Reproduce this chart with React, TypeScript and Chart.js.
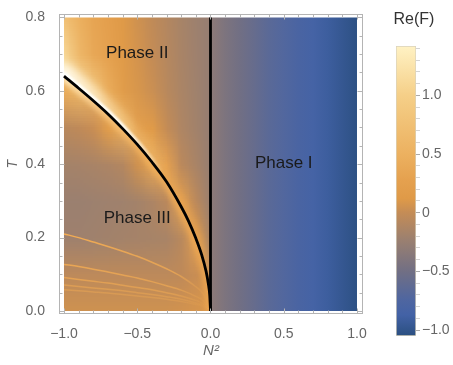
import React, { useEffect, useRef } from 'react';
import { Chart, registerables } from 'chart.js';

Chart.register(...registerables);

const FONT = "'Liberation Sans', Arial, Helvetica, sans-serif";

// ---------- axes ----------
const xMajorTicks = [-1, -0.5, 0, 0.5, 1];
const xTickLabels = ['−1.0', '−0.5', '0.0', '0.5', '1.0'];
const xMinorTicks = [-0.9, -0.8, -0.7, -0.6, -0.4, -0.3, -0.2, -0.1, 0.1, 0.2, 0.3, 0.4, 0.6, 0.7, 0.8, 0.9];
const yMajorTicks = [0, 0.2, 0.4, 0.6, 0.8];
const yTickLabels = ['0.0', '0.2', '0.4', '0.6', '0.8'];
const yMinorTicks = [0.05, 0.1, 0.15, 0.25, 0.3, 0.35, 0.45, 0.5, 0.55, 0.65, 0.7, 0.75];
const xTitle = 'N²';
const yTitle = 'T';

// ---------- colour bar ----------
const cbTitle = 'Re(F)';
const cbMajorTicks = [-1, -0.5, 0, 0.5, 1];
const cbTickLabels = ['−1.0', '−0.5', '0', '0.5', '1.0'];
const cbMinorTicks = [-0.9, -0.8, -0.7, -0.6, -0.4, -0.3, -0.2, -0.1, 0.1, 0.2, 0.3, 0.4, 0.6, 0.7, 0.8, 0.9, 1.1, 1.2, 1.3, 1.4];
const cmapValues = [-1.05, -0.87, -0.74, -0.5, -0.23, 0.0, 0.12, 0.28, 0.5, 1.0, 1.42];
const cmapColors = ['#2a4f80', '#4362a6', '#4f66a0', '#716f84', '#9b8070', '#c48c56', '#df9a48', '#e5a14f', '#ecb160', '#f5cf88', '#fff2c4'];

// ---------- density field (Re F) ----------
const gridN2 = [-1, -0.9, -0.8, -0.7, -0.6, -0.5, -0.4, -0.3, -0.2, -0.1, 0];
const gridT = [0.8, 0.7, 0.6, 0.5, 0.4, 0.3, 0.2, 0.1, 0];
const phaseIIValues = [
  [0.75, 0.50, 0.33, 0.24, 0.13, 0.05, -0.02, -0.09, -0.16, -0.22, -0.27],
  [1.10, 0.62, 0.38, 0.27, 0.15, 0.07, 0.00, -0.08, -0.15, -0.21, -0.27],
  [1.42, 1.20, 0.90, 0.45, 0.18, 0.09, 0.03, -0.06, -0.14, -0.20, -0.27],
  [1.42, 1.42, 1.20, 0.90, 0.60, 0.25, 0.15, 0.00, -0.12, -0.19, -0.27],
  [1.30, 1.30, 1.20, 1.00, 0.80, 0.65, 0.55, 0.30, -0.05, -0.15, -0.26],
  [1.20, 1.20, 1.10, 1.00, 0.80, 0.65, 0.55, 0.45, 0.25, -0.05, -0.24],
  [1.20, 1.20, 1.10, 1.00, 0.80, 0.65, 0.55, 0.45, 0.35, 0.15, -0.18],
  [1.20, 1.20, 1.10, 1.00, 0.80, 0.65, 0.55, 0.45, 0.35, 0.20, -0.10],
  [1.20, 1.20, 1.10, 1.00, 0.80, 0.65, 0.55, 0.45, 0.35, 0.20, -0.05],
];
const phaseIIIValues = [
  [0.60, 0.58, 0.55, 0.52, 0.50, 0.45, 0.40, 0.38, 0.35, 0.30, 0.15],
  [0.60, 0.58, 0.55, 0.52, 0.50, 0.45, 0.40, 0.38, 0.35, 0.30, 0.15],
  [0.45, 0.58, 0.55, 0.52, 0.50, 0.45, 0.40, 0.38, 0.35, 0.30, 0.15],
  [-0.06, -0.03, 0.02, 0.20, 0.45, 0.45, 0.40, 0.38, 0.35, 0.30, 0.15],
  [-0.18, -0.17, -0.15, -0.13, -0.09, 0.05, 0.35, 0.38, 0.35, 0.30, 0.15],
  [-0.23, -0.23, -0.22, -0.21, -0.20, -0.18, -0.13, -0.05, 0.35, 0.30, 0.15],
  [-0.21, -0.21, -0.20, -0.19, -0.18, -0.17, -0.16, -0.15, -0.06, 0.30, 0.15],
  [-0.04, -0.04, -0.04, -0.04, -0.04, -0.04, -0.04, -0.04, -0.03, 0.02, 0.10],
  [0.05, 0.05, 0.05, 0.05, 0.05, 0.05, 0.05, 0.05, 0.06, 0.08, 0.10],
];
const phaseIN2 = [0, 0.1, 0.2, 0.3, 0.4, 0.5, 0.6, 0.7, 0.8, 0.9, 1.0];
const phaseIValues = [-0.32, -0.42, -0.5, -0.58, -0.66, -0.72, -0.79, -0.85, -0.91, -0.97, -1.03];

// ---------- phase boundary ----------
const boundaryN2 = [-1, -0.9, -0.8, -0.7, -0.6, -0.5, -0.4, -0.3, -0.2, -0.15, -0.1, -0.06, -0.03, -0.015, -0.005, 0];
const boundaryT = [0.640, 0.607, 0.573, 0.537, 0.497, 0.454, 0.406, 0.352, 0.284, 0.245, 0.198, 0.153, 0.108, 0.075, 0.042, 0];
const verticalN2 = [0, 0];
const verticalT = [0, 0.8];

// ---------- fringe lines in phase III ----------
const fringeN2 = [-1, -0.9, -0.8, -0.7, -0.6, -0.5, -0.4, -0.3, -0.2, -0.1, -0.05, 0];
const fringe1T = [0.210, 0.200, 0.188, 0.176, 0.163, 0.149, 0.133, 0.115, 0.094, 0.066, 0.047, 0];
const fringe2T = [0.127, 0.121, 0.114, 0.106, 0.098, 0.090, 0.080, 0.069, 0.057, 0.040, 0.028, 0];
const fringe3T = [0.091, 0.086, 0.081, 0.076, 0.070, 0.064, 0.058, 0.050, 0.041, 0.029, 0.020, 0];
const fringe4T = [0.071, 0.067, 0.063, 0.059, 0.055, 0.050, 0.045, 0.039, 0.032, 0.022, 0.016, 0];
const fringe5T = [0.058, 0.055, 0.052, 0.049, 0.045, 0.041, 0.037, 0.032, 0.026, 0.018, 0.013, 0];

// ---------- annotations ----------
const phaseLabels = ['Phase II', 'Phase III', 'Phase I'];
const phaseLabelN2 = [-0.5, -0.5, 0.5];
const phaseLabelT = [0.702, 0.253, 0.403];

// ---------- helpers ----------
function hexToRgb(h: string): number[] {
  const n = parseInt(h.slice(1), 16);
  return [(n >> 16) & 255, (n >> 8) & 255, n & 255];
}
const cmapRGB = cmapColors.map(hexToRgb);
function colorAt(v: number): number[] {
  const n = cmapValues.length;
  if (v <= cmapValues[0]) return cmapRGB[0];
  if (v >= cmapValues[n - 1]) return cmapRGB[n - 1];
  let i = 0;
  while (v > cmapValues[i + 1]) i++;
  const t = (v - cmapValues[i]) / (cmapValues[i + 1] - cmapValues[i]);
  return cmapRGB[i].map((c, k) => Math.round(c + (cmapRGB[i + 1][k] - c) * t));
}
function css(v: number): string {
  const [r, g, b] = colorAt(v);
  return `rgb(${r},${g},${b})`;
}
function gridImage(values: number[][]): HTMLCanvasElement {
  const rows = values.length;
  const cols = values[0].length;
  const c = document.createElement('canvas');
  c.width = cols;
  c.height = rows;
  const g = c.getContext('2d')!;
  const img = g.createImageData(cols, rows);
  for (let r = 0; r < rows; r++) {
    for (let k = 0; k < cols; k++) {
      const [R, G, B] = colorAt(values[r][k]);
      const idx = (r * cols + k) * 4;
      img.data[idx] = R;
      img.data[idx + 1] = G;
      img.data[idx + 2] = B;
      img.data[idx + 3] = 255;
    }
  }
  g.putImageData(img, 0, 0);
  return c;
}

const heatmapPlugin = {
  id: 'heatmap',
  beforeDatasetsDraw(chart: any) {
    const { ctx } = chart;
    const xs = chart.scales.x;
    const ys = chart.scales.y;
    const X = (v: number) => xs.getPixelForValue(v);
    const Y = (v: number) => ys.getPixelForValue(v);
    const last = boundaryN2.length - 1;

    const boundaryPath = () => {
      boundaryN2.forEach((v, i) => (i === 0 ? ctx.moveTo(X(v), Y(boundaryT[i])) : ctx.lineTo(X(v), Y(boundaryT[i]))));
    };
    const clipII = () => {
      ctx.beginPath();
      ctx.moveTo(X(-1.1), Y(0.9));
      ctx.lineTo(X(-1.1), Y(boundaryT[0]));
      boundaryN2.forEach((v, i) => ctx.lineTo(X(v), Y(boundaryT[i])));
      ctx.lineTo(X(boundaryN2[last]), Y(0.9));
      ctx.closePath();
      ctx.clip();
    };
    const clipIII = () => {
      ctx.beginPath();
      ctx.moveTo(X(-1.1), Y(boundaryT[0]));
      boundaryN2.forEach((v, i) => ctx.lineTo(X(v), Y(boundaryT[i])));
      ctx.lineTo(X(boundaryN2[last]), Y(-0.1));
      ctx.lineTo(X(-1.1), Y(-0.1));
      ctx.closePath();
      ctx.clip();
    };
    const drawGrid = (values: number[][]) => {
      const img = gridImage(values);
      const sx = gridN2[1] - gridN2[0];
      const st = gridT[0] - gridT[1];
      const dx = X(gridN2[0] - sx / 2);
      const dw = X(gridN2[gridN2.length - 1] + sx / 2) - dx;
      const dy = Y(gridT[0] + st / 2);
      const dh = Y(gridT[gridT.length - 1] - st / 2) - dy;
      ctx.imageSmoothingEnabled = true;
      ctx.imageSmoothingQuality = 'low';
      ctx.drawImage(img, dx, dy, dw, dh);
    };
    const xGrad = (stops: [number, string][]) => {
      const g = ctx.createLinearGradient(X(-1), 0, X(0), 0);
      stops.forEach(([v, c]) => g.addColorStop(v + 1, c));
      return g;
    };

    ctx.save();
    ctx.beginPath();
    ctx.rect(X(-1), Y(0.8), X(1) - X(-1), Y(0) - Y(0.8));
    ctx.clip();

    // Phase I
    const g1 = ctx.createLinearGradient(X(phaseIN2[0]), 0, X(phaseIN2[phaseIN2.length - 1]), 0);
    phaseIN2.forEach((v, i) => g1.addColorStop((v - phaseIN2[0]) / (phaseIN2[phaseIN2.length - 1] - phaseIN2[0]), css(phaseIValues[i])));
    ctx.fillStyle = g1;
    ctx.fillRect(X(0), Y(0.85), X(1.05) - X(0), Y(-0.05) - Y(0.85));

    // Phase II
    ctx.save();
    clipII();
    drawGrid(phaseIIValues);
    ctx.lineJoin = 'round';
    ctx.lineCap = 'round';
    ctx.filter = 'blur(4px)';
    ctx.strokeStyle = xGrad([[-1, 'rgba(255,250,235,0.95)'], [-0.8, 'rgba(255,240,210,0.7)'], [-0.55, 'rgba(250,215,150,0.35)'], [-0.3, 'rgba(240,180,100,0)'], [0, 'rgba(240,180,100,0)']]);
    ctx.lineWidth = 24;
    ctx.beginPath(); boundaryPath(); ctx.stroke();
    ctx.filter = 'blur(3px)';
    ctx.strokeStyle = xGrad([[-1, 'rgba(236,166,82,0)'], [-0.45, 'rgba(236,166,82,0)'], [-0.2, 'rgba(236,166,82,0.6)'], [0, 'rgba(236,166,82,0.5)']]);
    ctx.lineWidth = 12;
    ctx.beginPath(); boundaryPath(); ctx.stroke();
    ctx.filter = 'blur(1.2px)';
    ctx.strokeStyle = xGrad([[-1, 'rgba(255,255,250,1)'], [-0.6, 'rgba(255,255,248,0.95)'], [-0.45, 'rgba(255,250,235,0.6)'], [-0.32, 'rgba(255,245,220,0)'], [0, 'rgba(255,245,220,0)']]);
    ctx.lineWidth = 8;
    ctx.beginPath(); boundaryPath(); ctx.stroke();
    ctx.restore();

    // Phase III
    ctx.save();
    clipIII();
    drawGrid(phaseIIIValues);
    ctx.lineJoin = 'round';
    ctx.filter = 'blur(2.5px)';
    ctx.strokeStyle = xGrad([[-1, 'rgba(255,235,190,0.95)'], [-0.8, 'rgba(250,205,140,0.9)'], [-0.5, 'rgba(242,178,95,0.85)'], [0, 'rgba(236,165,80,0.8)']]);
    ctx.lineWidth = 10;
    ctx.beginPath(); boundaryPath(); ctx.stroke();
    ctx.restore();

    ctx.restore();
  },
};

const framePlugin = {
  id: 'frame',
  afterDatasetsDraw(chart: any) {
    const { ctx, chartArea: a } = chart;
    const xs = chart.scales.x;
    const ys = chart.scales.y;
    ctx.save();
    // phase labels
    ctx.fillStyle = '#1a1a1a';
    ctx.font = `17px ${FONT}`;
    ctx.textAlign = 'center';
    ctx.textBaseline = 'middle';
    phaseLabels.forEach((t, i) => ctx.fillText(t, xs.getPixelForValue(phaseLabelN2[i]), ys.getPixelForValue(phaseLabelT[i])));

    // frame
    const L = Math.round(a.left) + 0.5;
    const R = Math.round(a.right) - 0.5;
    const T = Math.round(a.top) + 0.5;
    const B = Math.round(a.bottom) - 0.5;
    ctx.strokeStyle = '#b4b4b4';
    ctx.lineWidth = 1;
    ctx.strokeRect(L, T, R - L, B - T);
    const line = (x1: number, y1: number, x2: number, y2: number) => {
      ctx.beginPath(); ctx.moveTo(x1, y1); ctx.lineTo(x2, y2); ctx.stroke();
    };
    const xt = (vals: number[], len: number) => vals.forEach((v) => {
      const p = Math.round(xs.getPixelForValue(v)) + 0.5;
      line(p, B, p, B - len); line(p, T, p, T + len);
    });
    const yt = (vals: number[], len: number) => vals.forEach((v) => {
      const p = Math.round(ys.getPixelForValue(v)) + 0.5;
      line(L, p, L + len, p); line(R, p, R - len, p);
    });
    xt(xMajorTicks, 5); xt(xMinorTicks, 3);
    yt(yMajorTicks, 5); yt(yMinorTicks, 3);
    ctx.restore();
  },
};

const cbTitlePlugin = {
  id: 'cbTitle',
  afterDraw(chart: any) {
    const { ctx } = chart;
    ctx.save();
    ctx.font = `16px ${FONT}`;
    ctx.fillStyle = '#333';
    ctx.textAlign = 'center';
    ctx.textBaseline = 'middle';
    ctx.fillText(cbTitle, 44, 20);
    ctx.restore();
  },
};

function fringeColor(alpha: number) {
  return (c: any) => {
    const chart = c.chart;
    const xs = chart.scales && chart.scales.x;
    if (!xs || !chart.chartArea) return `rgba(244,170,80,${alpha})`;
    const g = chart.ctx.createLinearGradient(xs.getPixelForValue(-1), 0, xs.getPixelForValue(0), 0);
    g.addColorStop(0, `rgba(244,172,82,${alpha})`);
    g.addColorStop(0.75, `rgba(244,172,82,${alpha * 0.7})`);
    g.addColorStop(1, 'rgba(244,172,82,0)');
    return g;
  };
}

const toPts = (xs: number[], ys: number[]) => xs.map((x, i) => ({ x, y: ys[i] }));

export default function App() {
  const mainRef = useRef<HTMLCanvasElement>(null);
  const cbRef = useRef<HTMLCanvasElement>(null);

  useEffect(() => {
    const fringes = [fringe1T, fringe2T, fringe3T, fringe4T, fringe5T];
    const fringeAlpha = [1, 0.85, 0.7, 0.55, 0.45];
    const main = new Chart(mainRef.current!, {
      type: 'scatter',
      data: {
        datasets: [
          ...fringes.map((f, i) => ({
            data: toPts(fringeN2, f),
            showLine: true,
            borderColor: fringeColor(fringeAlpha[i]),
            borderWidth: 1.5,
            pointRadius: 0,
            cubicInterpolationMode: 'monotone',
          })),
          {
            data: toPts(boundaryN2, boundaryT),
            showLine: true,
            borderColor: '#000',
            borderWidth: 2.8,
            pointRadius: 0,
            cubicInterpolationMode: 'monotone',
          },
          {
            data: toPts(verticalN2, verticalT),
            showLine: true,
            borderColor: '#000',
            borderWidth: 2.8,
            pointRadius: 0,
          },
        ] as any,
      },
      options: {
        animation: false,
        responsive: false,
        events: [],
        layout: { padding: { top: 14, right: 90, left: 0, bottom: 0 } },
        plugins: { legend: { display: false }, tooltip: { enabled: false } },
        scales: {
          x: {
            type: 'linear',
            min: -1.0341,
            max: 1.041,
            grid: { display: false },
            border: { display: false },
            afterBuildTicks: (s: any) => { s.ticks = xMajorTicks.map((v) => ({ value: v })); },
            afterFit: (s: any) => { s.height = 51; },
            ticks: {
              autoSkip: false,
              maxRotation: 0,
              padding: 4,
              color: '#666',
              font: { family: FONT, size: 14 },
              callback: (v: any) => xTickLabels[xMajorTicks.indexOf(Number(v))],
            },
            title: {
              display: true,
              text: xTitle,
              color: '#666',
              font: { family: FONT, size: 15, style: 'italic' },
              padding: { top: 0, bottom: 5 },
            },
          },
          y: {
            type: 'linear',
            min: -0.00816,
            max: 0.80816,
            grid: { display: false },
            border: { display: false },
            afterBuildTicks: (s: any) => { s.ticks = yMajorTicks.map((v) => ({ value: v })); },
            afterFit: (s: any) => { s.width = 59; },
            ticks: {
              autoSkip: false,
              padding: 6,
              color: '#666',
              font: { family: FONT, size: 14 },
              callback: (v: any) => yTickLabels[yMajorTicks.indexOf(Number(v))],
            },
            title: {
              display: true,
              text: yTitle,
              color: '#666',
              font: { family: FONT, size: 14, style: 'italic' },
              padding: { top: 5, bottom: 0 },
            },
          },
        },
      } as any,
      plugins: [heatmapPlugin, framePlugin],
    });

    const cbMin = cmapValues[0];
    const cbMax = cmapValues[cmapValues.length - 1];
    const cbAll = [...cbMajorTicks, ...cbMinorTicks].sort((a, b) => a - b);
    const cb = new Chart(cbRef.current!, {
      type: 'bar',
      data: {
        labels: [''],
        datasets: [
          {
            data: [[cbMin, cbMax]],
            backgroundColor: (c: any) => {
              const chart = c.chart;
              const ys = chart.scales && chart.scales.y;
              if (!ys || !chart.chartArea) return cmapColors[0];
              const g = chart.ctx.createLinearGradient(0, ys.getPixelForValue(cbMin), 0, ys.getPixelForValue(cbMax));
              cmapValues.forEach((v, i) => g.addColorStop((v - cbMin) / (cbMax - cbMin), cmapColors[i]));
              return g;
            },
            borderColor: '#d9d2bd',
            borderWidth: 1,
            borderSkipped: false,
            barPercentage: 1,
            categoryPercentage: 1,
          },
        ] as any,
      },
      options: {
        animation: false,
        responsive: false,
        events: [],
        layout: { padding: { left: 26, top: 46, bottom: 29, right: 0 } },
        plugins: { legend: { display: false }, tooltip: { enabled: false } },
        scales: {
          x: { display: false },
          y: {
            position: 'right',
            min: cbMin,
            max: cbMax,
            border: { display: false },
            grid: {
              drawOnChartArea: false,
              drawTicks: true,
              tickLength: 4,
              color: (c: any) => (c.tick && cbMajorTicks.includes(c.tick.value) ? '#aaaaaa' : '#d4d4d4'),
            },
            afterBuildTicks: (s: any) => { s.ticks = cbAll.map((v) => ({ value: v })); },
            afterFit: (s: any) => { s.width = 37; },
            ticks: {
              autoSkip: false,
              padding: 2,
              color: '#666',
              font: { family: FONT, size: 14 },
              callback: (v: any) => {
                const i = cbMajorTicks.indexOf(Number(v));
                return i >= 0 ? cbTickLabels[i] : '';
              },
            },
          },
        },
      } as any,
      plugins: [cbTitlePlugin],
    });

    return () => {
      main.destroy();
      cb.destroy();
    };
  }, []);

  return (
    <div style={{ position: 'absolute', left: 0, top: 0, width: 453, height: 365, background: '#fff' }}>
      <canvas ref={mainRef} width={453} height={365} style={{ position: 'absolute', left: 0, top: 0 }} />
      <canvas ref={cbRef} width={83} height={365} style={{ position: 'absolute', left: 370, top: 0 }} />
    </div>
  );
}
